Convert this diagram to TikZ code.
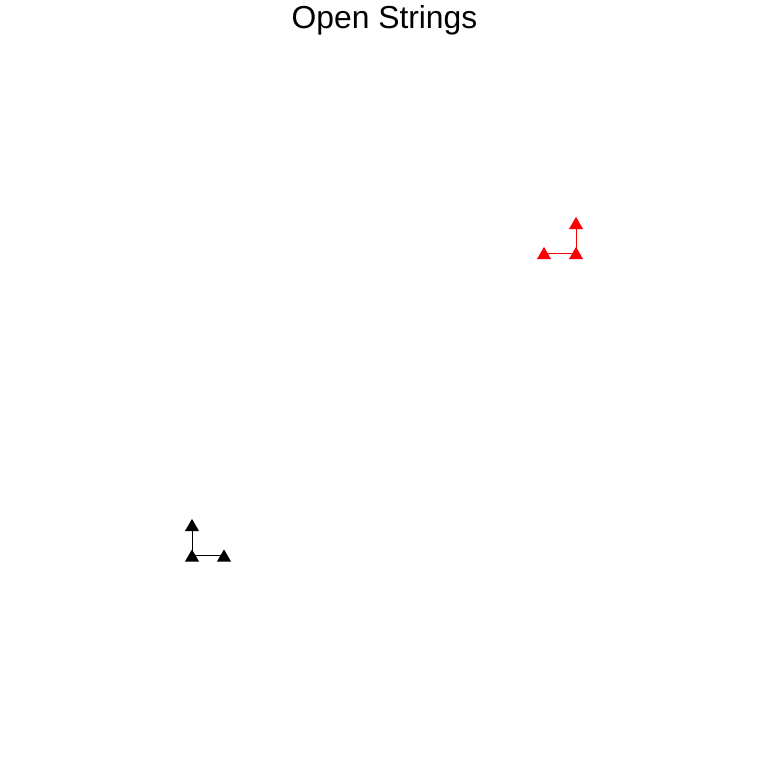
\documentclass[tikz,border=0pt]{standalone}
\usepackage{fontspec}
\setmainfont{Liberation Sans}
\usetikzlibrary{shapes.geometric}
\tikzset{
  mark/.style={regular polygon, regular polygon sides=3, minimum size=16.2pt,
    inner sep=0pt, fill=#1, draw=none, yshift=-2pt},
  seg/.style={line width=0.8pt, draw=#1}
}
\begin{document}
\begin{tikzpicture}[x=1pt,y=1pt]
      \useasboundingbox (0,0) rectangle (768,768);
      %title
      \node[anchor=base, font=\fontsize{31.8}{36}\selectfont] (title) at (384.5,739) {Open Strings};
      %points
      \coordinate (B1) at (192,243);
      \coordinate (B2) at (192,212.5);
      \coordinate (B3) at (224,212.5);
      \coordinate (R1) at (576,545);
      \coordinate (R2) at (544,515);
      \coordinate (R3) at (576,515);
      %segments
      \draw[seg=black] (B1)--(B2)--(B3);
      \draw[seg=red] (R2)--(R3)--(R1);
      %markers
      \node[mark=black] (mb1) at (B1) {};
      \node[mark=black] (mb2) at (B2) {};
      \node[mark=black] (mb3) at (B3) {};
      \node[mark=red] (mr1) at (R1) {};
      \node[mark=red] (mr2) at (R2) {};
      \node[mark=red] (mr3) at (R3) {};
    \end{tikzpicture}
\end{document}
